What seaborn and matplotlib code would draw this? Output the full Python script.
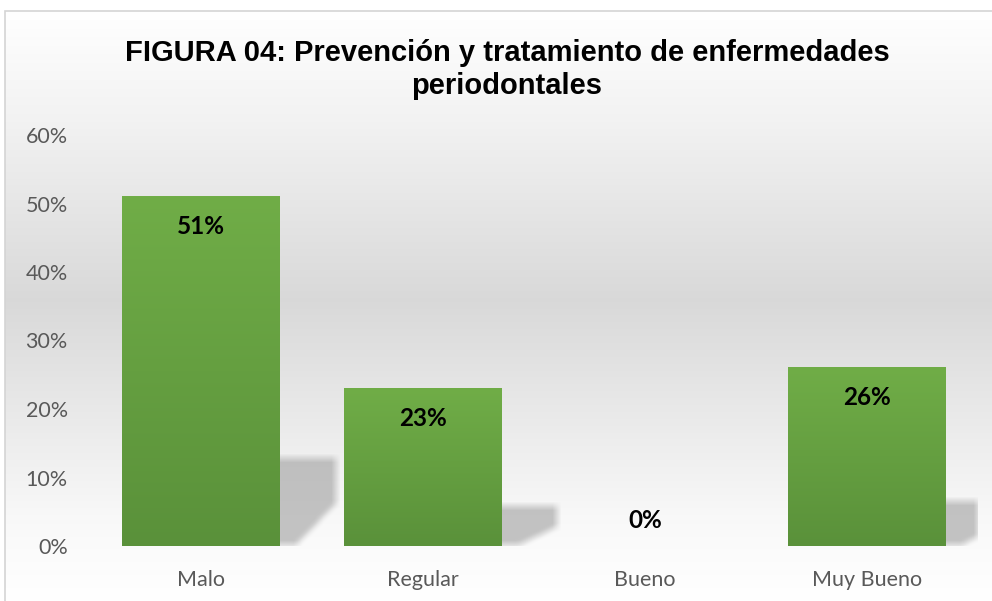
import numpy as np
import pandas as pd
import matplotlib
matplotlib.use('Agg')
import matplotlib.pyplot as plt
import seaborn as sns
from matplotlib.patches import Rectangle
from matplotlib.path import Path

categories = ['Malo', 'Regular', 'Bueno', 'Muy Bueno']
values = [51, 23, 0, 26]
value_labels = ['51%', '23%', '0%', '26%']
yticks = [0, 10, 20, 30, 40, 50, 60]
ytick_labels = ['0%', '10%', '20%', '30%', '40%', '50%', '60%']
title_line1 = 'FIGURA 04: Prevención y tratamiento de enfermedades'
title_line2 = 'periodontales'

sns.set_theme(style='white')
plt.rcParams['font.family'] = ['Lato', 'DejaVu Sans']

W, H = 992, 601
fig = plt.figure(figsize=(W / 100, H / 100), dpi=100)
fig.patch.set_facecolor('white')

# chart-area background gradient
bg = fig.add_axes([5 / W, 0, 1 - 5 / W, (H - 11) / H], zorder=0)
bg.axis('off')
ys = np.linspace(11, 601, 400)
g = np.interp(ys, [11, 120, 300, 520, 601], [1.0, 0.95, 0.85, 0.975, 1.0])
img = np.stack([g, g, g], axis=-1)[:, None, :].repeat(2, axis=1)
bg.imshow(img, aspect='auto', extent=[0, 1, 0, 1], origin='upper')
bg.set_xlim(0, 1)
bg.set_ylim(0, 1)

fig.patches.append(Rectangle((5 / W, -0.05), 1.0, (H - 11) / H + 0.05,
                             transform=fig.transFigure, fill=False,
                             edgecolor='#d4d4d4', lw=1.2, zorder=5))

ax = fig.add_axes([90 / W, 55 / H, 888 / W, 411 / H], zorder=1)
ax.patch.set_alpha(0)

df = pd.DataFrame({'cat': categories, 'val': values})
sns.barplot(data=df, x='cat', y='val', color='#70ad47', saturation=1,
            width=0.71, ax=ax, zorder=3, linewidth=0, edgecolor='none')

bars = list(ax.patches)
grad = np.linspace(0, 1, 200)[:, None]
top = np.array([0x70, 0xad, 0x47]) / 255
bot = np.array([0x5a, 0x91, 0x3a]) / 255
gimg = (top[None, None, :] * (1 - grad[:, :, None]) + bot[None, None, :] * grad[:, :, None])
gimg = gimg.repeat(2, axis=1)

# blurred shadow mask on a pixel grid over the axes
nx, ny = 888, 411
gx = np.linspace(-0.5, 3.5, nx)
gy = np.linspace(60, 0, ny)
XX, YY = np.meshgrid(gx, gy)
pts_grid = np.column_stack([XX.ravel(), YY.ravel()])
mask = np.zeros(nx * ny)

for p, v in zip(bars, values):
    h = p.get_height()
    if h <= 0:
        continue
    x0 = p.get_x()
    w = p.get_width()
    ax.imshow(gimg, extent=[x0, x0 + w, 0, h], aspect='auto', origin='upper', zorder=3.5)
    xr = x0 + w
    poly = Path([(xr - 0.02, 0), (xr - 0.02, 0.25 * h), (xr + 0.25, 0.25 * h),
                 (xr + 0.25, 0.12 * h), (xr + 0.07, 0), (xr - 0.02, 0)])
    mask = np.maximum(mask, poly.contains_points(pts_grid).astype(float))

mask = mask.reshape(ny, nx)
k = np.ones(9) / 9
mask = np.apply_along_axis(lambda r: np.convolve(r, k, mode='same'), 1, mask)
mask = np.apply_along_axis(lambda c: np.convolve(c, k, mode='same'), 0, mask)
shadow = np.zeros((ny, nx, 4))
shadow[..., :3] = 0.62
shadow[..., 3] = mask * 0.6
ax.imshow(shadow, extent=[-0.5, 3.5, 0, 60], aspect='auto', origin='upper', zorder=2)

ax.set_xlim(-0.5, 3.5)
ax.set_ylim(0, 60)

for i, (v, lab) in enumerate(zip(values, value_labels)):
    off = -30 if v > 0 else 26
    ax.annotate(lab, (i, v), xytext=(0, off), textcoords='offset pixels',
                ha='center', va='center', fontsize=17.5, fontweight='bold',
                color='black', zorder=6)

ax.set_yticks(yticks)
ax.set_yticklabels(ytick_labels)
ax.tick_params(axis='both', length=0, labelsize=15.5, colors='#595959')
ax.tick_params(axis='y', pad=16)
ax.tick_params(axis='x', pad=17)
ax.set_xlabel('')
ax.set_ylabel('')
for s in ax.spines.values():
    s.set_visible(False)

fig.text(507 / W, 1 - 53 / H, title_line1, ha='center', va='center', fontsize=21,
         fontweight='bold', family=['Liberation Sans', 'DejaVu Sans'], color='black')
fig.text(507 / W, 1 - 86 / H, title_line2, ha='center', va='center', fontsize=21,
         fontweight='bold', family=['Liberation Sans', 'DejaVu Sans'], color='black')

fig.savefig('out.png', dpi=100)
